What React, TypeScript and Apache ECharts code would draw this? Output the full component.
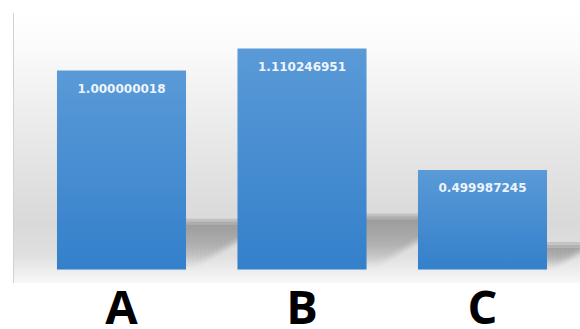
import React, { useEffect, useRef } from "react";
import * as echarts from "echarts";

const categories = ["A", "B", "C"];
const values = [1.000000018, 1.110246951, 0.499987245];
const valueLabels = ["1.000000018", "1.110246951", "0.499987245"];

const BAR_RATIO = 0.715;

export default function App() {
  const ref = useRef<HTMLDivElement>(null);
  useEffect(() => {
    if (!ref.current) return;
    const chart = echarts.init(ref.current, null, { renderer: "svg" });
    const shadowData = values.map((v, i) => [i, v]);
    const offsets = [
      [-3, -3], [0, -3], [3, -3],
      [-3, 0], [0, 0], [3, 0],
      [-3, 3], [0, 3], [3, 3],
    ];
    chart.setOption({
      animation: false,
      backgroundColor: "#ffffff",
      graphic: [
        {
          type: "rect",
          z: -10,
          silent: true,
          shape: { x: 13, y: 13, width: 567, height: 270 },
          style: {
            fill: new echarts.graphic.LinearGradient(0, 0, 0, 1, [
              { offset: 0, color: "#ffffff" },
              { offset: 0.12, color: "#fbfbfb" },
              { offset: 0.45, color: "#e9e9e9" },
              { offset: 0.78, color: "#d9d9d9" },
              { offset: 0.9, color: "#e0e0e0" },
              { offset: 1, color: "#f8f8f8" },
            ]),
          },
        },
        {
          type: "line",
          z: -9,
          silent: true,
          shape: { x1: 13.5, y1: 13, x2: 13.5, y2: 283 },
          style: { stroke: "#d2d2d2", lineWidth: 1 },
        },
      ],
      grid: { left: 31.25, right: 7.25, top: 30.7, bottom: 56.5 },
      xAxis: {
        type: "category",
        data: categories,
        axisLine: { show: false },
        axisTick: { show: false },
        axisLabel: {
          color: "#000000",
          fontFamily: "Open Sans",
          fontWeight: 700,
          fontSize: 47,
          lineHeight: 36,
          margin: 18,
        },
      },
      yAxis: { type: "value", min: 0, max: 1.2, show: false },
      series: [
        {
          type: "custom",
          z: 1,
          silent: true,
          data: shadowData,
          renderItem: (params: any, api: any) => {
            const idx = api.value(0);
            const v = api.value(1);
            const top = api.coord([idx, v]);
            const base = api.coord([idx, 0]);
            const band = api.size([1, 0])[0];
            const w = band * BAR_RATIO;
            const H = base[1] - top[1];
            const dx = H * 0.4;
            const dy = H * 0.235;
            const xl = base[0] - w / 2;
            const xr = base[0] + w / 2 + 4;
            const y0 = base[1] - 1;
            const children = offsets.map((o) => ({
              type: "polygon",
              shape: {
                points: [
                  [xl + o[0], y0 + o[1]],
                  [xr + o[0], y0 + o[1]],
                  [xr + dx + o[0], y0 - dy + o[1]],
                  [xl + dx + o[0], y0 - dy + o[1]],
                ],
              },
              style: {
                fill: new echarts.graphic.LinearGradient(0, 0, 0, 1, [
                  { offset: 0, color: "rgba(95,95,95,0.075)" },
                  { offset: 0.5, color: "rgba(95,95,95,0.05)" },
                  { offset: 1, color: "rgba(95,95,95,0.0)" },
                ]),
              },
            }));
            return { type: "group", children };
          },
        },
        {
          type: "bar",
          z: 2,
          data: values,
          barWidth: (BAR_RATIO * 100).toFixed(1) + "%",
          itemStyle: {
            color: new echarts.graphic.LinearGradient(0, 0, 0, 1, [
              { offset: 0, color: "#5a9ad7" },
              { offset: 1, color: "#3480cb" },
            ]),
          },
          label: {
            show: true,
            position: "insideTop",
            distance: 12,
            color: "#eef4fb",
            fontFamily: "DejaVu Sans",
            fontWeight: 700,
            fontSize: 12,
            formatter: (p: any) => valueLabels[p.dataIndex],
          },
        },
      ],
    });
    return () => chart.dispose();
  }, []);
  return (
    <div
      ref={ref}
      style={{ position: "fixed", left: 0, top: 0, width: 580, height: 329 }}
    />
  );
}
